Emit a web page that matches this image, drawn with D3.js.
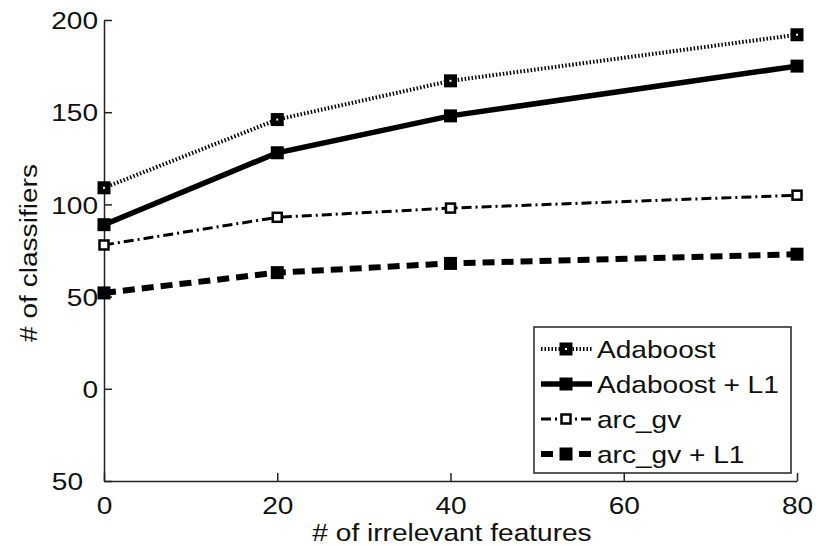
<!DOCTYPE html>
<html>
<head>
<meta charset="utf-8">
<script src="https://cdn.jsdelivr.net/npm/d3@7"></script>
<style>
  body { margin: 0; background: #fff; }
  svg { display: block; font-family: 'Liberation Sans', Arial, sans-serif; }
  text { fill: #111; }
</style>
</head>
<body>
<div id="chart"></div>
<script>
// x values (# of irrelevant features)
const features = [0, 20, 40, 60, 80]
const xPoints = [0, 20, 40, 80]

// series values (# of classifiers)
const adaboost = [109, 146, 167, 192]
const adaboostL1 = [89, 128, 148, 175]
const arcGv = [78, 93, 98, 105]
const arcGvL1 = [52, 63, 68, 73]

const seriesNames = ['Adaboost', 'Adaboost + L1', 'arc_gv', 'arc_gv + L1']

// y ticks; the bottom label lost its minus sign in the original
const yTicks = [-50, 0, 50, 100, 150, 200]
const yTickLabels = ['50', '0', '50', '100', '150', '200']

const width = 816
const height = 547
const stretch = 1.17 // text in the picture is a bit wide

const svg = d3.select('#chart').append('svg')
  .attr('width', width)
  .attr('height', height)

const xScale = d3.scaleLinear().domain([0, 80]).range([104, 797])
const yScale = d3.scaleLinear().domain([-50, 200]).range([481, 20])

// x axis, ticks point inwards
const xAxis = d3.axisBottom(xScale)
  .tickValues(features)
  .tickSizeInner(-8)
  .tickSizeOuter(0)
  .tickPadding(0)

const gx = svg.append('g')
  .attr('transform', `translate(0, ${yScale(-50)})`)
  .call(xAxis)
gx.selectAll('text')
  .attr('y', 33)
  .attr('dy', 0)
  .attr('transform', `scale(${stretch},1)`)

// y axis
const yAxis = d3.axisLeft(yScale)
  .tickValues(yTicks)
  .tickSizeInner(-8)
  .tickSizeOuter(0)
  .tickFormat((d, i) => yTickLabels[i])

const gy = svg.append('g')
  .attr('transform', `translate(${xScale(0)}, 0)`)
  .call(yAxis)
gy.selectAll('text')
  .attr('x', (d) => d === -50 ? -21 / stretch : -6 / stretch)
  .attr('dy', '0.36em')
  .attr('transform', `scale(${stretch},1)`)

svg.selectAll('.domain, .tick line')
  .attr('stroke', '#222')
  .attr('stroke-width', 1.5)
svg.selectAll('.tick text')
  .attr('fill', '#111')
  .style('font-size', '24px')

// axis titles
svg.append('text')
  .attr('transform', `translate(452, 541) scale(${stretch},1)`)
  .attr('text-anchor', 'middle')
  .style('font-size', '24px')
  .text('# of irrelevant features')

svg.append('text')
  .attr('transform', `translate(37, 253) rotate(-90) scale(${stretch},1)`)
  .attr('text-anchor', 'middle')
  .style('font-size', '24px')
  .text('# of classifiers')

// line styles per series
const styles = [
  { values: adaboost, width: 4, dash: '1.5,2', marker: 'dot' },
  { values: adaboostL1, width: 5.5, dash: null, marker: 'filled' },
  { values: arcGv, width: 3, dash: '10,4,2,4', marker: 'open' },
  { values: arcGvL1, width: 6, dash: '12,7', marker: 'filled' }
]

const line = d3.line()
  .x((d, i) => xScale(xPoints[i]))
  .y((d) => yScale(d))

const drawMarker = (g, cx, cy, type) => {
  if (type === 'open') {
    g.append('rect')
      .attr('x', cx - 4.5).attr('y', cy - 4.5)
      .attr('width', 9).attr('height', 9)
      .attr('fill', '#fff')
      .attr('stroke', '#000')
      .attr('stroke-width', 2.5)
  } else {
    g.append('rect')
      .attr('x', cx - 6.5).attr('y', cy - 6.5)
      .attr('width', 13).attr('height', 13)
      .attr('fill', '#000')
    if (type === 'dot') {
      g.append('rect')
        .attr('x', cx - 1).attr('y', cy - 1)
        .attr('width', 2).attr('height', 2)
        .attr('fill', '#fff')
    }
  }
}

styles.forEach((s) => {
  svg.append('path')
    .datum(s.values)
    .attr('d', line)
    .attr('fill', 'none')
    .attr('stroke', '#000')
    .attr('stroke-width', s.width)
    .attr('stroke-dasharray', s.dash)
  const g = svg.append('g')
  s.values.forEach((v, i) => drawMarker(g, xScale(xPoints[i]), yScale(v), s.marker))
})

// legend
const legend = svg.append('g')
legend.append('rect')
  .attr('x', 534).attr('y', 327)
  .attr('width', 257).attr('height', 146)
  .attr('fill', '#fff')
  .attr('stroke', '#222')
  .attr('stroke-width', 1.5)

const rowY = [349, 384, 419, 454]
seriesNames.forEach((name, i) => {
  const s = styles[i]
  legend.append('line')
    .attr('x1', 541).attr('x2', 592)
    .attr('y1', rowY[i]).attr('y2', rowY[i])
    .attr('stroke', '#000')
    .attr('stroke-width', s.width)
    .attr('stroke-dasharray', s.dash)
  drawMarker(legend, 566, rowY[i], s.marker)
  legend.append('text')
    .attr('transform', `translate(597, ${rowY[i] + 8.5}) scale(${stretch},1)`)
    .style('font-size', '24px')
    .text(name)
})
</script>
</body>
</html>
